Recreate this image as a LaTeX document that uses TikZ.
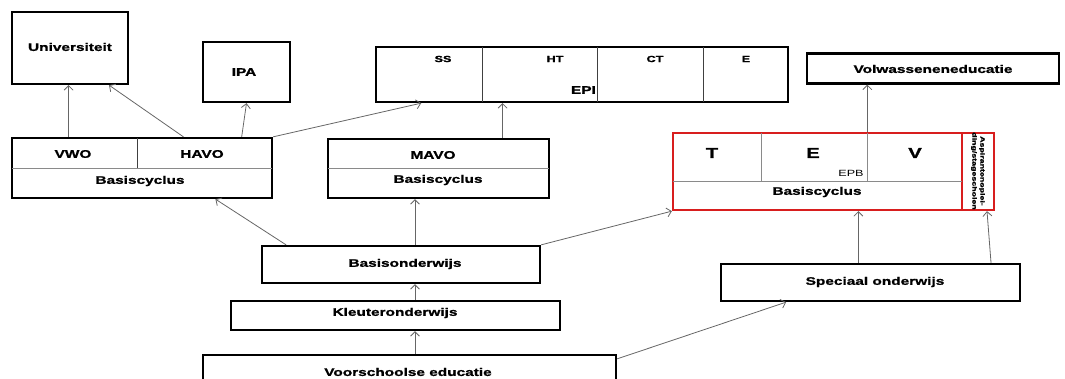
\documentclass[tikz,border=0pt]{standalone}
\usepackage{fontspec}
\setmainfont{Liberation Sans}[FakeStretch=1.4, BoldFeatures={FakeBold=1.2}]
\usetikzlibrary{arrows.meta,calc}
\definecolor{arrgray}{HTML}{666666}
\definecolor{divgray}{HTML}{8A8A8A}
\definecolor{epbred}{HTML}{D81E1E}
\begin{document}
\begin{tikzpicture}[x=1pt,y=-1pt,
  box/.style={draw=black, line width=2.3pt, inner sep=0pt},
  redbox/.style={draw=epbred, line width=2.3pt, inner sep=0pt},
  lbl/.style={font=\bfseries\fontsize{11}{12}\selectfont, inner sep=0pt},
  sml/.style={font=\bfseries\fontsize{9}{10}\selectfont, inner sep=0pt},
  big/.style={font=\bfseries\fontsize{14.5}{15}\selectfont, inner sep=0pt},
  arr/.style={draw=arrgray, line width=0.8pt, -{Straight Barb[length=4.5pt,width=9pt]}},
  divl/.style={draw=divgray, line width=0.8pt},
  divd/.style={draw=black!75, line width=0.9pt}]
\useasboundingbox (0,0) rectangle (1065,379);
\clip (0,0) rectangle (1065,379);
% top row
\node[box, minimum width=116pt, minimum height=72pt] (univ) at (70,48) {};
\node[lbl] (univt) at (70,47) {Universiteit};
\node[box, minimum width=87pt, minimum height=60pt] (ipa) at (246.5,72) {};
\node[lbl] (ipat) at (244,72) {IPA};
\node[box, minimum width=412pt, minimum height=55pt] (epi) at (582,74.5) {};
\draw[divd] (482,47) -- (482,102) (597,47) -- (597,102) (703,47) -- (703,102);
\node[sml] (ss) at (443,59) {SS};
\node[sml] (ht) at (555,59) {HT};
\node[sml] (ct) at (655,59) {CT};
\node[sml] (ee) at (746,59) {E};
\node[lbl, anchor=east] (epit) at (596,90) {EPI};
\node[box, minimum width=252pt, minimum height=30pt] (volw) at (933,68.5) {};
\node[lbl] (volwt) at (933,69) {Volwasseneneducatie};
% second row
\node[box, minimum width=260pt, minimum height=60pt] (vh) at (142,168) {};
\draw[divl] (12,168) -- (272,168);
\draw[divd] (137,138) -- (137,168);
\node[lbl] (vwo) at (73,154) {VWO};
\node[lbl] (havo) at (202,154) {HAVO};
\node[lbl] (bc1) at (140,181) {Basiscyclus};
\node[box, minimum width=221pt, minimum height=59pt] (mavo) at (438.5,168.5) {};
\draw[divl] (328,168) -- (549,168);
\node[lbl] (mavot) at (433,155) {MAVO};
\node[lbl] (bc2) at (438,180) {Basiscyclus};
\node[redbox, minimum width=289pt, minimum height=77pt] (epb) at (817.5,171.5) {};
\node[redbox, minimum width=32pt, minimum height=77pt] (side) at (978,171.5) {};
\draw[divl] (673,181) -- (962,181);
\draw[divl] (761,133) -- (761,181) (867,133) -- (867,181);
\node[big] (tt) at (712,153) {T};
\node[big] (et) at (813,153) {E};
\node[big] (vt) at (915,153) {V};
\node[font=\fontsize{9}{10}\selectfont, inner sep=0pt] (epbt) at (851,173) {EPB};
\node[lbl] (bc3) at (817,192) {Basiscyclus};
\node[rotate=-90, align=center, font=\bfseries\fontsize{6.3}{8}\selectfont, inner sep=0pt] (sidet) at (978,171) {Aspirantenoplei-\\ding/stagescholen};
% lower rows
\node[box, minimum width=278pt, minimum height=37pt] (basis) at (401,264.5) {};
\node[lbl] (basist) at (405,264) {Basisonderwijs};
\node[box, minimum width=329pt, minimum height=29pt] (kleut) at (395.5,315.5) {};
\node[lbl] (kleutt) at (395,313) {Kleuteronderwijs};
\node[box, minimum width=413pt, minimum height=40pt] (voor) at (409.5,375) {};
\node[lbl] (voort) at (408,372) {Voorschoolse educatie};
\node[box, minimum width=299pt, minimum height=37pt] (spec) at (870.5,282.5) {};
\node[lbl] (spect) at (875,282) {Speciaal onderwijs};
% connectors
\coordinate (s1) at ($(vh.north west)!0.22!(vh.north east)$);
\draw[arr] (s1) -- (s1 |- univ.south);
\draw[arr] ($(vh.north west)!0.658!(vh.north east)$) -- ($(univ.south west)!0.83!(univ.south east)$);
\draw[arr] ($(vh.north west)!0.88!(vh.north east)$) -- (ipa.south);
\draw[arr] (vh.north east) -- ($(epi.south west)!0.112!(epi.south east)$);
\coordinate (m1) at ($(mavo.north west)!0.787!(mavo.north east)$);
\draw[arr] (m1) -- (m1 |- epi.south);
\coordinate (e1) at ($(epb.north west)!0.671!(epb.north east)$);
\draw[arr] (e1) -- (e1 |- volw.south);
\draw[arr] ($(basis.north west)!0.09!(basis.north east)$) -- ($(vh.south west)!0.78!(vh.south east)$);
\coordinate (b1) at ($(basis.north west)!0.55!(basis.north east)$);
\draw[arr] (b1) -- (b1 |- mavo.south);
\draw[arr] (basis.north east) -- (epb.south west);
\coordinate (k1) at (b1 |- kleut.north);
\draw[arr] (k1) -- (k1 |- basis.south);
\coordinate (v1) at (b1 |- voor.north);
\draw[arr] (v1) -- (v1 |- kleut.south);
\draw[arr] ($(voor.north east)+(0,5)$) -- ($(spec.south west)!0.22!(spec.south east)$);
\coordinate (p1) at ($(spec.north west)!0.46!(spec.north east)$);
\draw[arr] (p1) -- (p1 |- epb.south);
\draw[arr] ($(spec.north west)!0.90!(spec.north east)$) -- ($(side.south)+(9,0)$);
\end{tikzpicture}
\end{document}
